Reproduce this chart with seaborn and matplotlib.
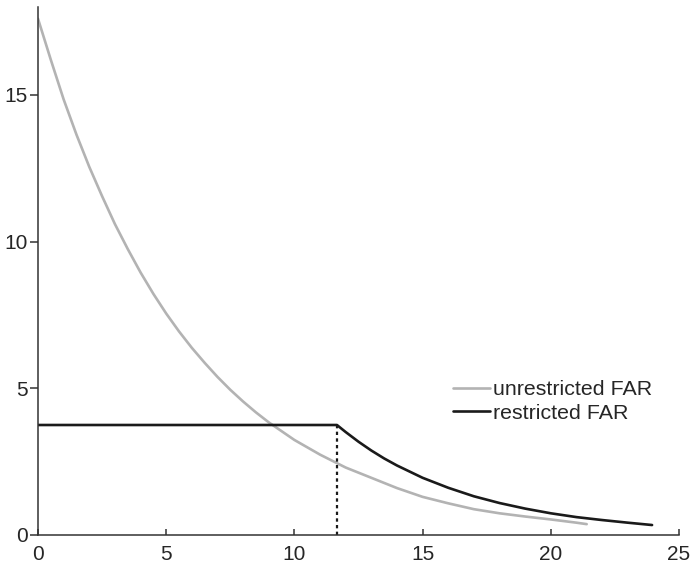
import numpy as np
import pandas as pd
import matplotlib
matplotlib.use("Agg")
import matplotlib.pyplot as plt
import seaborn as sns

# ======================
# Data
# ======================

unres_x = [0, 0.5, 1, 1.5, 2, 2.5, 3, 3.5, 4, 4.5, 5, 5.5, 6, 6.5, 7, 7.5, 8,
           8.5, 9, 10, 11, 12, 13, 14, 15, 16, 17, 18, 19, 20, 21, 21.4]
unres_y = [17.6, 16.2, 14.85, 13.65, 12.55, 11.55, 10.6, 9.75, 8.95, 8.22, 7.55,
           6.94, 6.38, 5.87, 5.39, 4.95, 4.55, 4.18, 3.84, 3.24, 2.74, 2.3, 1.95,
           1.6, 1.3, 1.08, 0.88, 0.74, 0.63, 0.53, 0.42, 0.37]

res_x = [0, 11.66, 12, 12.5, 13, 13.5, 14, 15, 16, 17, 18, 19, 20, 21, 22, 23, 23.95]
res_y = [3.75, 3.75, 3.51, 3.18, 2.88, 2.61, 2.37, 1.95, 1.61, 1.32, 1.09, 0.9,
         0.74, 0.61, 0.51, 0.42, 0.34]

cap_x = 11.66
cap_y = 3.75

labels = ["unrestricted FAR", "restricted FAR"]
colors = ["#b3b3b3", "#1a1a1a"]

df = pd.concat([
    pd.DataFrame({"x": unres_x, "y": unres_y, "series": labels[0]}),
    pd.DataFrame({"x": res_x, "y": res_y, "series": labels[1]}),
])

# ======================
# Plot
# ======================

sns.set_style("ticks")
plt.rcParams["font.family"] = ["Liberation Sans", "DejaVu Sans"]

fig = plt.figure(figsize=(6.93, 5.63), dpi=100)
ax = fig.add_axes([38 / 693, 1 - 535 / 563, 641 / 693, 528 / 563])

sns.lineplot(data=df, x="x", y="y", hue="series", palette=colors,
             hue_order=labels, linewidth=1.9, sort=False, ax=ax)

ax.plot([cap_x, cap_x], [0, cap_y], color="#1a1a1a", linewidth=1.6,
        linestyle=(0, (1.5, 1.5)))

ax.set_xlim(0, 25)
ax.set_ylim(0, 18)
ax.set_xticks([0, 5, 10, 15, 20, 25])
ax.set_yticks([0, 5, 10, 15])
ax.set_xlabel("")
ax.set_ylabel("")

for side in ["top", "right"]:
    ax.spines[side].set_visible(False)
for side in ["left", "bottom"]:
    ax.spines[side].set_color("#333333")
    ax.spines[side].set_linewidth(1.1)

ax.tick_params(axis="x", direction="in", length=4, width=1.1, color="#333333",
               labelsize=15, pad=7)
ax.tick_params(axis="y", direction="out", length=6, width=1.1, color="#333333",
               labelsize=15, pad=1.5)

ax.legend(loc="center left", bbox_to_anchor=(0.647, 0.253), frameon=False,
          fontsize=15.4, handlelength=1.75, handletextpad=0.15,
          labelspacing=0.22, borderpad=0, borderaxespad=0)

fig.savefig("out.png", dpi=100)
